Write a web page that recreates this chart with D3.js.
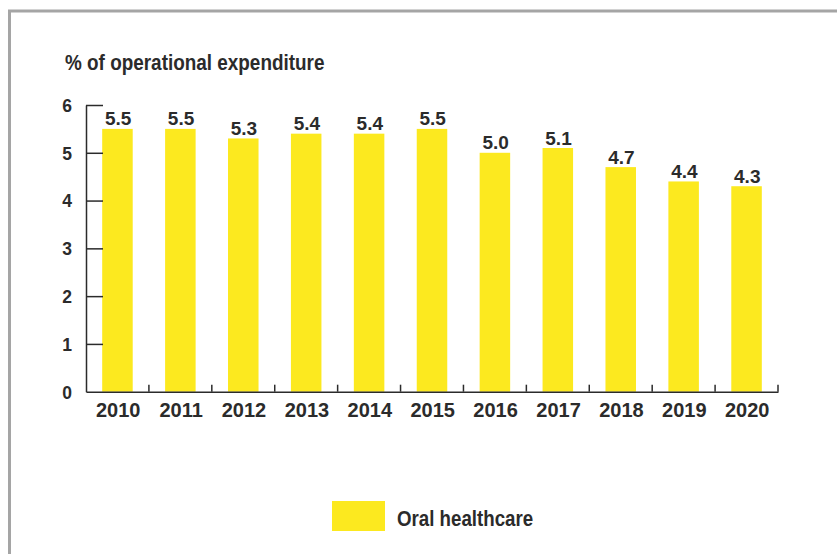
<!DOCTYPE html>
<html>
<head>
<meta charset="utf-8">
<script src="https://cdn.jsdelivr.net/npm/d3@7/dist/d3.min.js"></script>
<style>
  html, body { margin: 0; padding: 0; background: #fff; }
  svg { display: block; }
  text { font-family: "Liberation Sans", Arial, sans-serif; font-weight: bold; fill: #2b2b2b; }
</style>
</head>
<body>
<svg id="chart" width="837" height="554"></svg>
<script>
// Share of operational expenditure spent on oral healthcare, by year
const years = ["2010", "2011", "2012", "2013", "2014", "2015", "2016", "2017", "2018", "2019", "2020"];
const oralHealthcare = [5.5, 5.5, 5.3, 5.4, 5.4, 5.5, 5.0, 5.1, 4.7, 4.4, 4.3];
const yTicks = [0, 1, 2, 3, 4, 5, 6];
const seriesName = "Oral healthcare";
const yTitle = "% of operational expenditure";

const svg = d3.select("#chart");
const ink = "#2b2b2b";
const yellow = "#fce91f";
const fontStack = "'Liberation Sans', Arial, sans-serif";

// outer frame (only top and left edges fall inside the view)
svg.append("rect")
  .attr("x", 9.5).attr("y", 11)
  .attr("width", 900).attr("height", 700)
  .attr("fill", "none")
  .attr("stroke", "#a5a5a5")
  .attr("stroke-width", 3);

const plotLeft = 86, plotRight = 778, plotTop = 105, plotBottom = 391.7;

const x = d3.scaleBand()
  .domain(years)
  .range([plotLeft, plotRight])
  .paddingInner(0.515)
  .paddingOuter(0.2575);

const y = d3.scaleLinear()
  .domain([0, 6])
  .range([plotBottom, plotTop]);

// title, set in a condensed cut
svg.append("text")
  .attr("transform", "translate(65,69.5) scale(0.86,1)")
  .style("font-size", "22px")
  .text(yTitle);

// bars
svg.append("g").selectAll("rect")
  .data(years)
  .join("rect")
  .attr("x", d => x(d))
  .attr("width", x.bandwidth())
  .attr("y", (d, i) => y(oralHealthcare[i]))
  .attr("height", (d, i) => y(0) - y(oralHealthcare[i]))
  .attr("fill", yellow);

// value labels
svg.append("g").selectAll("text")
  .data(years)
  .join("text")
  .attr("x", d => x(d) + x.bandwidth() / 2 + 0.7)
  .attr("y", (d, i) => y(oralHealthcare[i]) - 3.5)
  .attr("text-anchor", "middle")
  .style("font-size", "19px")
  .text((d, i) => oralHealthcare[i].toFixed(1));

// y axis with ticks pointing into the plot
const yAxis = svg.append("g")
  .attr("transform", `translate(${plotLeft},0)`)
  .call(d3.axisLeft(y).tickValues(yTicks).tickFormat(d3.format("d"))
    .tickSizeInner(-17).tickSizeOuter(0).tickPadding(14));
yAxis.select(".domain").attr("stroke", ink).attr("stroke-width", 1.5);
yAxis.selectAll(".tick line").attr("stroke", ink).attr("stroke-width", 1.5)
  .filter(d => d === 0).remove();
yAxis.selectAll(".tick text")
  .attr("fill", ink)
  .style("font-family", fontStack)
  .style("font-weight", "bold")
  .style("font-size", "17.5px")
  .attr("dy", "0.36em");

// x axis baseline with upward ticks between categories
const xAxis = svg.append("g")
  .attr("transform", `translate(0,${plotBottom})`)
  .call(d3.axisBottom(x).tickSize(0).tickSizeOuter(0));
xAxis.select(".domain").attr("stroke", ink).attr("stroke-width", 1.5);
xAxis.selectAll(".tick text")
  .attr("fill", ink)
  .attr("y", 25)
  .attr("dy", null)
  .attr("dx", "0.7px")
  .style("font-family", fontStack)
  .style("font-weight", "bold")
  .style("font-size", "20px");

const gap = x.step() * x.paddingInner() / 2;
svg.append("g").selectAll("line")
  .data(years)
  .join("line")
  .attr("x1", d => x(d) + x.bandwidth() + gap)
  .attr("x2", d => x(d) + x.bandwidth() + gap)
  .attr("y1", plotBottom)
  .attr("y2", plotBottom - 7)
  .attr("stroke", ink)
  .attr("stroke-width", 1.5);

// legend
const legend = svg.append("g");
legend.append("rect")
  .attr("x", 332).attr("y", 501)
  .attr("width", 53).attr("height", 30)
  .attr("fill", yellow);
legend.append("text")
  .attr("transform", "translate(397,525.5) scale(0.85,1)")
  .style("font-size", "22px")
  .text(seriesName);
</script>
</body>
</html>
